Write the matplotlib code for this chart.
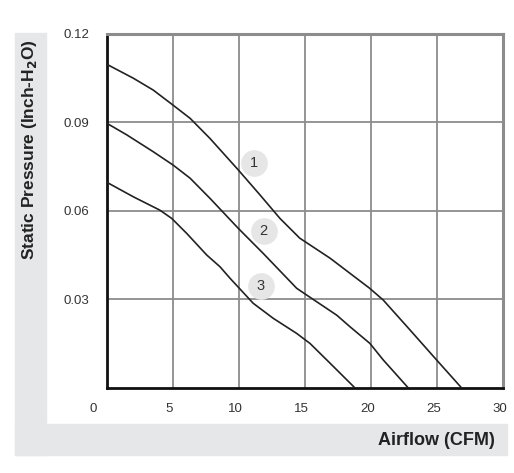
import matplotlib
matplotlib.use("Agg")
import matplotlib.pyplot as plt
from matplotlib.patches import Rectangle
from matplotlib.transforms import ScaledTranslation

plt.rcParams['font.family'] = ['Liberation Sans', 'DejaVu Sans']

# curve 1
x1 = [0, 2.0, 3.5, 5.0, 6.3, 7.8, 9.95, 11.6, 13.1, 14.6, 16.9, 19.9, 20.93, 22.95, 24.97, 26.87]
y1 = [0.1097, 0.105, 0.101, 0.0959, 0.0914, 0.0846, 0.0739, 0.0654, 0.0575, 0.0508, 0.0440, 0.0338, 0.0298, 0.0197, 0.0095, 0.0]
# curve 2
x2 = [0, 1.5, 3.5, 5.0, 6.3, 7.8, 9.95, 11.84, 14.37, 15.13, 17.4, 18.4, 19.92, 20.93, 22.83]
y2 = [0.0897, 0.0858, 0.0801, 0.0756, 0.0711, 0.0643, 0.0541, 0.0456, 0.0338, 0.0315, 0.0247, 0.0208, 0.0151, 0.0095, 0.0]
# curve 3
x3 = [0, 2.0, 4.0, 4.9, 6.04, 7.55, 8.56, 9.32, 11.08, 12.6, 14.37, 15.38, 16.9, 18.79]
y3 = [0.0697, 0.0648, 0.0603, 0.0575, 0.0524, 0.0451, 0.0411, 0.0372, 0.0287, 0.0236, 0.0185, 0.0151, 0.0084, 0.0]

curve_names = ['1', '2', '3']
label_x = [11.14, 11.86, 11.63]
label_y = [0.0763, 0.0531, 0.0346]

xticks = [0, 5, 10, 15, 20, 25, 30]
yticks = [0.03, 0.06, 0.09, 0.12]
ytick_labels = ['0.03', '0.06', '0.09', '0.12']

W, H = 514, 473
fig = plt.figure(figsize=(W / 100, H / 100), dpi=100)

band = '#e6e7e8'
# gray L-shaped frame behind the chart
fig.patches.append(Rectangle((15 / W, 1 - 455 / H), 31 / W, (455 - 33) / H,
                             transform=fig.transFigure, color=band, zorder=0))
fig.patches.append(Rectangle((15 / W, 1 - 455 / H), (507 - 15) / W, 31 / H,
                             transform=fig.transFigure, color=band, zorder=0))

ax = fig.add_axes([107 / W, 1 - 388 / H, 396 / W, 354 / H])
ax.set_xlim(0, 30)
ax.set_ylim(0, 0.12)

for xs, ys in [(x1, y1), (x2, y2), (x3, y3)]:
    ax.plot(xs, ys, color='#222222', lw=1.2, zorder=3, solid_joinstyle='round')

for n, lx, ly in zip(curve_names, label_x, label_y):
    ax.scatter(lx, ly, s=370, color='#e6e6e6', zorder=2, linewidths=0)
    ax.text(lx, ly, n, ha='center', va='center', fontsize=10.5, color='#333333', zorder=4)

ax.set_xticks(xticks)
ax.set_xticklabels([str(v) for v in xticks])
ax.set_yticks(yticks)
ax.set_yticklabels(ytick_labels)
ax.tick_params(length=0, labelsize=9.5, colors='#333333')
ax.tick_params(axis='x', pad=11)
ax.tick_params(axis='y', pad=13)
ax.grid(True, color='#8c8c8c', lw=1.3)
ax.set_axisbelow(True)

for s in ['left', 'bottom']:
    ax.spines[s].set_color('#111111')
    ax.spines[s].set_linewidth(2)
for s in ['top', 'right']:
    ax.spines[s].set_color('#8c8c8c')
    ax.spines[s].set_linewidth(2.2)

# shift the x tick labels a touch left, the "0" well left
for i, lab in enumerate(ax.get_xticklabels()):
    dx = -10 if i == 0 else -2.5
    lab.set_transform(lab.get_transform() + ScaledTranslation(dx / 72, 0, fig.dpi_scale_trans))

fig.text(30 / W, 1 - 150 / H, 'Static Pressure (Inch-H$_\\mathbf{2}$O)', rotation=90,
         ha='center', va='center', fontsize=12.5, fontweight='bold', color='#222222')
fig.text(495 / W, 1 - 440 / H, 'Airflow (CFM)', ha='right', va='center',
         fontsize=13, fontweight='bold', color='#222222')

fig.savefig('out.png', dpi=100)
